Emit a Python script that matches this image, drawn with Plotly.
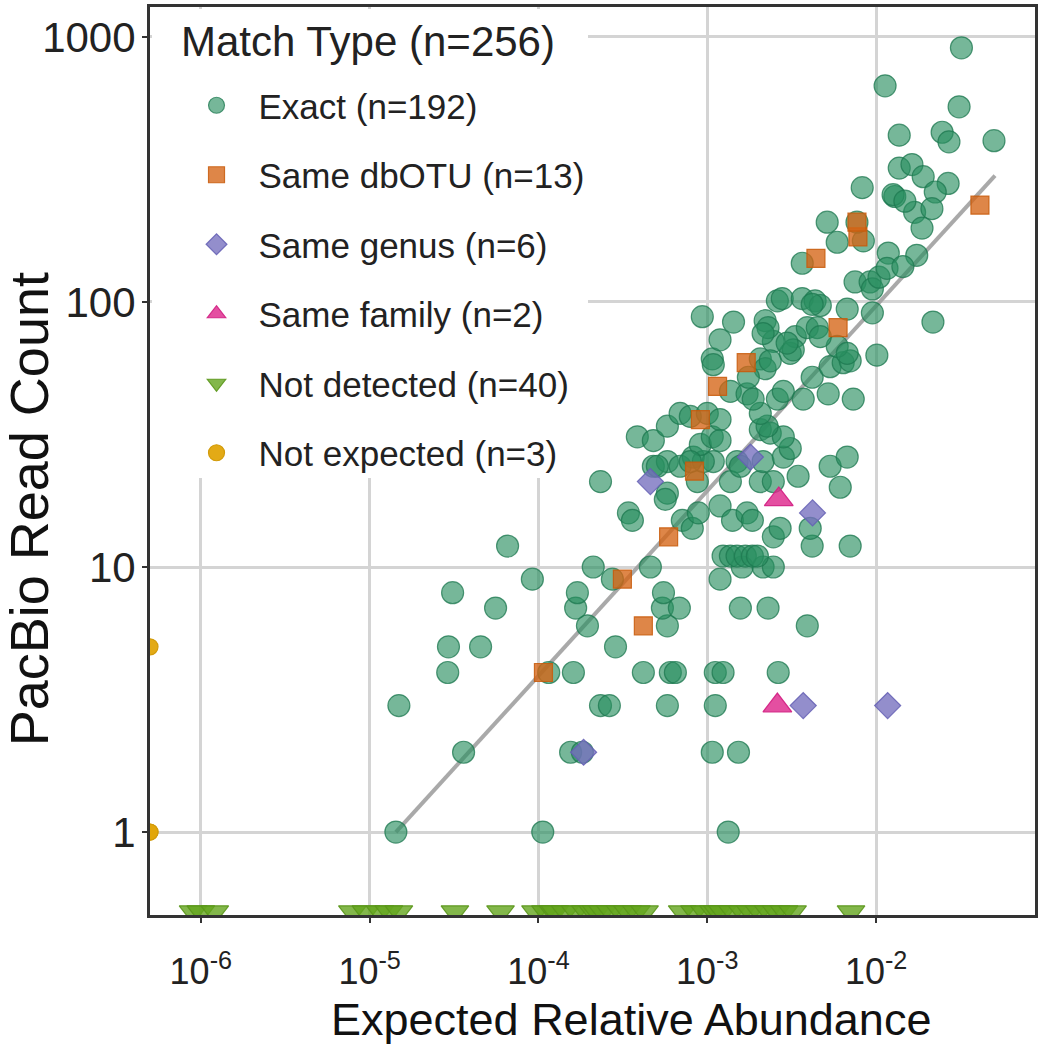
import plotly.graph_objects as go

# ---------------- data ----------------
exact_abund = [
    1.43e-5, 1.06e-4, 1.33e-3, 3.60e-5, 1.55e-4, 1.82e-4, 1.07e-3, 1.53e-3,
    1.49e-5, 2.33e-4, 2.63e-4, 5.8e-4, 1.115e-3,
    2.90e-5, 1.15e-4, 1.61e-4, 4.18e-4, 6.04e-4, 6.47e-4, 1.115e-3, 1.24e-3, 2.63e-3,
    2.93e-5, 4.54e-5, 2.86e-4,
    1.95e-4, 5.8e-4, 3.91e-3,
    5.57e-5, 1.66e-4, 5.42e-4, 6.83e-4, 1.57e-3, 2.29e-3,
    3.10e-5, 1.70e-4, 5.5e-4,
    9.2e-5, 2.74e-4, 1.19e-3,
    2.11e-4, 4.60e-4, 1.61e-3, 2.14e-3, 2.46e-3,
    6.56e-5, 1.24e-3, 1.37e-3, 1.50e-3, 1.68e-3, 1.85e-3, 1.98e-3, 4.18e-3, 7.02e-3, 2.46e-3,
    3.41e-4, 3.60e-4, 5.8e-4, 5.64e-4, 7.11e-4, 8.15e-4, 8.85e-4, 8.73e-4, 1.19e-3,
    1.41e-3, 1.72e-3, 1.85e-3, 2.70e-3, 4.07e-3,
    2.33e-4, 1.37e-3, 2.06e-3, 2.46e-3, 3.45e-3, 6.13e-3,
    4.79e-4, 5.8e-4, 6.9e-4, 8.26e-4, 1.085e-3, 1.50e-3, 2.14e-3, 2.82e-3, 3.10e-3,
    5.34e-3, 6.74e-3, 1.57e-3, 5.06e-4, 9.47e-4,
    3.85e-4, 4.79e-4, 5.8e-4, 9.09e-4, 1.07e-3, 2.06e-3, 2.36e-3, 2.82e-3, 2.26e-3,
    6.9e-4, 7.93e-4, 1.0e-3, 1.19e-3, 2.06e-3,
    1.37e-3, 1.72e-3, 1.87e-3, 2.60e-3, 2.82e-3, 3.70e-3, 5.2e-3, 7.32e-3, 4.18e-3,
    1.07e-3, 1.085e-3, 2.06e-3, 2.20e-3, 3.10e-3, 5.34e-3, 6.38e-3, 7.02e-3, 5.88e-3,
    6.74e-3, 1.01e-2,
    1.19e-3, 2.46e-3, 3.32e-3, 3.23e-3, 3.91e-3, 4.48e-3, 4.67e-3, 2.20e-3, 2.29e-3,
    2.14e-3, 9.34e-4, 1.43e-3, 2.97e-3,
    2.60e-3, 2.78e-3, 3.65e-3, 4.35e-3, 4.67e-3, 6.74e-3, 9.5e-3, 2.17e-2,
    7.5e-3, 9.21e-3, 9.5e-3, 1.04e-2, 3.65e-3, 5.88e-3, 8.4e-3, 5.13e-3, 7.7e-3,
    8.27e-3, 1.18e-2, 1.16e-2, 1.74e-2, 1.44e-2, 1.29e-2, 1.37e-2, 1.63e-2, 1.90e-2,
    2.67e-2, 2.24e-2, 1.69e-2, 2.14e-2, 1.87e-2, 1.37e-2, 2.46e-2, 2.7e-2, 4.99e-2,
    3.10e-2, 1.13e-2, 3.2e-2, 1.26e-2,
    7.93e-4, 1.19e-3, 1.75e-3, 2.36e-3, 4.18e-3, 1.48e-2,
]
exact_count = [
    1, 1, 1, 2, 2, 2, 2, 2,
    3, 3, 3, 3, 3,
    4, 4, 4, 4, 4, 4, 4, 4, 4,
    5, 5, 5,
    6, 6, 6,
    7, 7, 7, 7, 7, 7,
    8, 8, 8,
    9, 9, 9,
    10, 10, 10, 10, 10,
    12, 11, 11, 11, 11, 11, 11, 12, 12, 13,
    16, 15, 19, 18, 15, 14, 16, 21, 17,
    15, 16, 15, 14, 14,
    21, 21, 21, 21, 22, 20,
    24, 25, 24, 26, 25, 25, 25, 26, 28,
    24, 26, 24, 24, 25,
    31, 30, 34, 29, 31, 33, 32, 31, 34,
    38, 37, 38, 36, 38,
    46, 45, 43, 43, 46, 43, 45, 43, 52,
    61, 58, 61, 56, 64, 57, 59, 60, 68,
    64, 63,
    72, 71, 74, 66, 80, 80, 74, 85, 80,
    76, 88, 84, 70,
    101, 103, 103, 101, 97, 94, 91, 84,
    119, 119, 112, 124, 140, 168, 170, 200, 200,
    270, 153, 134, 150, 136, 250, 320, 330, 297,
    280, 260, 218, 225, 190, 426, 437, 402, 406,
    545, 654, 910, 254,
    25, 30, 52, 60, 98, 240,
]

dbotu_abund = [1.07e-4, 3.14e-4, 4.18e-4, 5.9e-4, 8.4e-4, 1.15e-3, 1.70e-3,
               5.95e-3, 4.4e-3, 7.8e-3, 7.7e-3, 4.12e-2, 9.1e-4]
dbotu_count = [4, 9, 6, 13, 23, 48, 59, 80, 146, 176, 200, 232, 36]

genus_abund = [4.6e-4, 1.8e-3, 4.2e-3, 3.7e-3, 1.17e-2, 1.85e-4]
genus_count = [21, 26, 16, 3, 3, 2]

family_abund = [2.65e-3, 2.6e-3]
family_count = [18, 3]

not_detected_abund = [
    9.0e-7, 1.0e-6, 1.21e-6, 7.9e-6, 9.5e-6, 1.15e-5, 1.3e-5, 1.49e-5, 3.2e-5, 5.96e-5,
    9.6e-5, 1.1e-4, 1.22e-4, 1.25e-4, 1.44e-4, 1.65e-4, 1.9e-4, 2.1e-4, 2.2e-4, 2.4e-4,
    2.67e-4, 3.05e-4, 3.37e-4, 3.8e-4, 4.25e-4, 7.1e-4, 8.4e-4, 9.6e-4, 1.09e-3, 1.15e-3,
    1.23e-3, 1.41e-3, 1.61e-3, 1.8e-3, 2.03e-3, 2.3e-3, 2.56e-3, 2.85e-3, 3.2e-3, 7.1e-3,
]
# zero reads are drawn at 0.5 on the log axis
not_detected_count = [
    0.5, 0.5, 0.5, 0.5, 0.5, 0.5, 0.5, 0.5, 0.5, 0.5,
    0.5, 0.5, 0.5, 0.5, 0.5, 0.5, 0.5, 0.5, 0.5, 0.5,
    0.5, 0.5, 0.5, 0.5, 0.5, 0.5, 0.5, 0.5, 0.5, 0.5,
    0.5, 0.5, 0.5, 0.5, 0.5, 0.5, 0.5, 0.5, 0.5, 0.5,
]

# not expected: zero expected abundance, drawn at the left edge
not_expected_abund = [5e-7, 5e-7, 5e-7]
not_expected_count = [5, 1, 1]

fit_abund = [1.43e-5, 5.06e-2]
fit_count = [1, 300]

x_tickvals = [1e-6, 1e-5, 1e-4, 1e-3, 1e-2]
x_ticktext = ["10<sup>-6</sup>", "10<sup>-5</sup>", "10<sup>-4</sup>",
              "10<sup>-3</sup>", "10<sup>-2</sup>"]
y_tickvals = [1, 10, 100, 1000]
y_ticktext = ["1", "10", "100", "1000"]

legend_title = "Match Type (n=256)"
names = ["Exact (n=192)", "Same dbOTU (n=13)", "Same genus (n=6)",
         "Same family (n=2)", "Not detected (n=40)", "Not expected (n=3)"]

# ---------------- figure ----------------
FONT = "Liberation Sans, Arial, sans-serif"
fig = go.Figure()

fig.add_trace(go.Scatter(x=fit_abund, y=fit_count, mode="lines",
                         line=dict(color="rgba(160,160,160,0.9)", width=4),
                         showlegend=False, hoverinfo="skip"))

def add(xs, ys, name, symbol, size, color, line_color, group):
    fig.add_trace(go.Scatter(
        x=xs, y=ys, mode="markers", name=name, legendgroup=group,
        marker=dict(symbol=symbol, size=size, color=color,
                    line=dict(color=line_color, width=1.2)),
    ))

add(exact_abund, exact_count, names[0], "circle", 22,
    "rgba(40,142,95,0.64)", "rgba(30,120,80,0.75)", "g1")
add(dbotu_abund, dbotu_count, names[1], "square", 18,
    "rgba(213,100,20,0.78)", "rgba(200,90,10,0.85)", "g2")
add(genus_abund, genus_count, names[2], "diamond", 20,
    "rgba(117,110,190,0.78)", "rgba(100,95,180,0.85)", "g3")
add(family_abund, family_count, names[3], "triangle-up", 25,
    "rgba(222,40,140,0.82)", "rgba(210,30,130,0.9)", "g4")
add(not_detected_abund, not_detected_count, names[4], "triangle-down", 24,
    "rgba(100,165,30,0.8)", "rgba(90,150,25,0.9)", "g5")
add(not_expected_abund, not_expected_count, names[5], "circle", 16,
    "rgba(225,165,10,0.95)", "rgba(210,155,10,1)", "g6")

fig.update_xaxes(
    type="log", range=[-6.30103, -1.059], automargin=False,
    tickvals=x_tickvals, ticktext=x_ticktext,
    tickfont=dict(family=FONT, size=36, color="#222"),
    showgrid=True, gridcolor="#d4d4d4", gridwidth=2.5,
    showline=True, linecolor="#333", linewidth=3, mirror=True,
    ticks="outside", ticklen=5, tickcolor="#333", tickwidth=2,
    ticklabelstandoff=18, zeroline=False,
)
fig.update_yaxes(
    type="log", range=[-0.313, 3.113], automargin=False,
    tickvals=y_tickvals, ticktext=y_ticktext,
    tickfont=dict(family=FONT, size=42, color="#222"),
    showgrid=True, gridcolor="#d4d4d4", gridwidth=2.5,
    showline=True, linecolor="#333", linewidth=3, mirror=True,
    ticks="outside", ticklen=5, tickcolor="#333", tickwidth=2,
    ticklabelstandoff=-2, zeroline=False,
)

fig.update_layout(
    width=1043, height=1050,
    margin=dict(l=150, r=8, t=7, b=135),
    plot_bgcolor="white", paper_bgcolor="white",
    font=dict(family=FONT, color="#222"),
    hovermode=False,
    legend=dict(
        font=dict(family=FONT, size=35, color="#222"),
        x=0.0277, y=0.924, xanchor="left", yanchor="top",
        bgcolor="rgba(0,0,0,0)", borderwidth=0,
        tracegroupgap=21, itemsizing="trace", itemwidth=74,
    ),
    shapes=[
        # white panel behind the legend (hides the grid there)
        dict(type="rect", xref="paper", yref="paper",
             x0=0.00226, x1=0.4949, y0=0.4813, y1=0.9978,
             fillcolor="white", line=dict(width=0), layer="above"),
    ],
    annotations=[
        dict(text=legend_title, xref="paper", yref="paper",
             x=0.0328, y=0.9615, xanchor="left", yanchor="middle",
             showarrow=False, font=dict(family=FONT, size=42, color="#222")),
        dict(text="Expected Relative Abundance", xref="paper", yref="paper",
             x=0.5435, y=-0.1156, xanchor="center", yanchor="middle",
             showarrow=False, font=dict(family=FONT, size=45, color="#111")),
        dict(text="PacBio Read Count", xref="paper", yref="paper",
             x=-0.1365, y=0.447, xanchor="center", yanchor="middle", textangle=-90,
             showarrow=False, font=dict(family=FONT, size=54, color="#111")),
    ],
)

fig.write_html(
    "out.html",
    config={"displayModeBar": False, "staticPlot": False},
    post_script="document.body.style.margin='0';document.body.style.padding='0';",
)
